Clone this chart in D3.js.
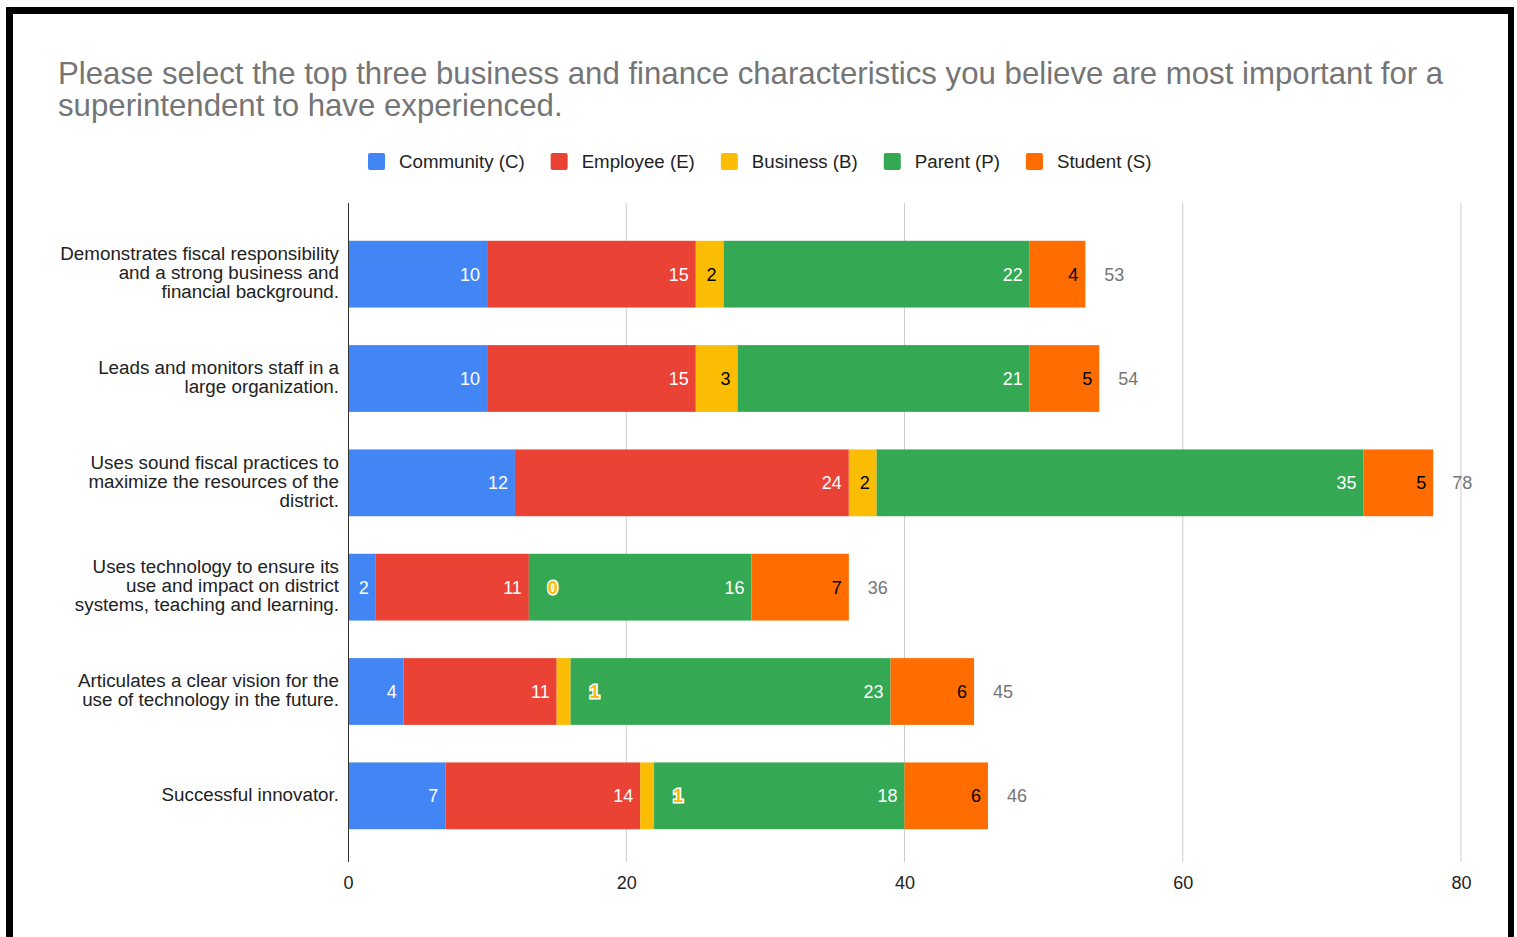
<!DOCTYPE html>
<html><head><meta charset="utf-8">
<script src="https://cdn.jsdelivr.net/npm/d3@7"></script>
<style>
html,body{margin:0;padding:0;background:#fff;}
svg{display:block;font-family:"Liberation Sans",Arial,sans-serif;}
</style></head>
<body>
<svg id="chart" width="1517" height="937"></svg>
<script>
const categories = [
  ["Demonstrates fiscal responsibility","and a strong business and","financial background."],
  ["Leads and monitors staff in a","large organization."],
  ["Uses sound fiscal practices to","maximize the resources of the","district."],
  ["Uses technology to ensure its","use and impact on district","systems, teaching and learning."],
  ["Articulates a clear vision for the","use of technology in the future."],
  ["Successful innovator."]
];
const seriesNames = ["Community (C)","Employee (E)","Business (B)","Parent (P)","Student (S)"];
const community = [10,10,12,2,4,7];
const employee  = [15,15,24,11,11,14];
const business  = [2,3,2,0,1,1];
const parent    = [22,21,35,16,23,18];
const student   = [4,5,5,7,6,6];
const xTicks = [0,20,40,60,80];
const titleLines = ["Please select the top three business and finance characteristics you believe are most important for a","superintendent to have experienced."];

const colors = ["#4285F4","#EA4335","#FBBC04","#34A853","#FF6D01"];
const labelColors = ["#fff","#fff","#000","#fff","#000"];
const seriesVals = [community, employee, business, parent, student];

const svg = d3.select("#chart");

// frame
svg.append("rect").attr("x",6).attr("y",7).attr("width",1508).attr("height",7).attr("fill","#000");
svg.append("rect").attr("x",6).attr("y",7).attr("width",7).attr("height",930).attr("fill","#000");
svg.append("rect").attr("x",1508).attr("y",7).attr("width",6).attr("height",930).attr("fill","#000");

// title
const title = svg.append("g");
titleLines.forEach((t,i)=>{
  title.append("text").attr("x",58).attr("y",84+i*32).attr("fill","#757575")
    .attr("font-size",31.2).text(t);
});

const x = d3.scaleLinear().domain([0,80]).range([348,1461]);
const idx = d3.range(categories.length);
const y = d3.scaleBand().domain(idx).range([222,848]).paddingInner(0.36).paddingOuter(0.18);

// gridlines
svg.append("g").selectAll("line").data(xTicks.filter(d=>d>0)).join("line")
  .attr("x1",d=>x(d)).attr("x2",d=>x(d)).attr("y1",203).attr("y2",862)
  .attr("stroke","#cccccc").attr("stroke-width",1);

// stacked data
const rows = idx.map(i=>{const o={i}; seriesNames.forEach((s,k)=>o[s]=seriesVals[k][i]); return o;});
const stack = d3.stack().keys(seriesNames)(rows);

const bars = svg.append("g");
stack.forEach((layer,k)=>{
  bars.append("g").attr("fill",colors[k]).selectAll("rect").data(layer).join("rect")
    .attr("x",d=>x(d[0])).attr("width",d=>x(d[1])-x(d[0]))
    .attr("y",d=>y(d.data.i)).attr("height",y.bandwidth());
});

// zero axis line
svg.append("line").attr("x1",x(0)+0.5).attr("x2",x(0)+0.5).attr("y1",203).attr("y2",862)
  .attr("stroke","#333").attr("stroke-width",1);

// segment labels
const labels = svg.append("g").attr("font-size",18);
stack.forEach((layer,k)=>{
  layer.forEach(d=>{
    const v = d[1]-d[0];
    const w = x(d[1])-x(d[0]);
    const cy = y(d.data.i)+y.bandwidth()/2;
    if (w >= 22) {
      labels.append("text").attr("x",x(d[1])-7).attr("y",cy).attr("dy","0.36em")
        .attr("text-anchor","end").attr("fill",labelColors[k]).text(v);
    } else {
      labels.append("text").attr("x",x(d[1])+19).attr("y",cy).attr("dy","0.36em")
        .attr("text-anchor","start").attr("fill",colors[k]).attr("stroke","#fff")
        .attr("stroke-width",3).attr("paint-order","stroke").attr("font-weight","bold").text(v);
    }
  });
});

// totals
const totals = idx.map(i=>d3.sum(seriesVals,s=>s[i]));
svg.append("g").selectAll("text").data(idx).join("text")
  .attr("x",i=>x(totals[i])+19).attr("y",i=>y(i)+y.bandwidth()/2).attr("dy","0.36em")
  .attr("font-size",18).attr("fill","#757575").text(i=>totals[i]);

// category labels
const cat = svg.append("g");
idx.forEach(i=>{
  const lines = categories[i];
  const cy = y(i)+y.bandwidth()/2;
  const lh = 19;
  lines.forEach((l,j)=>{
    cat.append("text").attr("x",339).attr("y",cy + (j-(lines.length-1)/2)*lh - 2).attr("dy","0.36em")
      .attr("text-anchor","end").attr("font-size",18.8).attr("fill","#222").text(l);
  });
});

// x axis
const xAxis = svg.append("g").attr("transform","translate(0,862)")
  .call(d3.axisBottom(x).tickValues(xTicks).tickSize(0).tickPadding(14));
xAxis.select(".domain").remove();
xAxis.selectAll("text").attr("font-size",18).attr("fill","#222")
  .attr("font-family","'Liberation Sans',Arial,sans-serif");

// legend
const leg = svg.append("g");
let lx = 368;
seriesNames.forEach((s,k)=>{
  leg.append("rect").attr("x",lx).attr("y",153).attr("width",17).attr("height",17).attr("rx",2).attr("fill",colors[k]);
  const t = leg.append("text").attr("x",lx+31).attr("y",161).attr("dy","0.36em")
    .attr("font-size",18.7).attr("fill","#222").text(s);
  lx = lx + 31 + t.node().getComputedTextLength() + 26;
});
</script>
</body></html>
